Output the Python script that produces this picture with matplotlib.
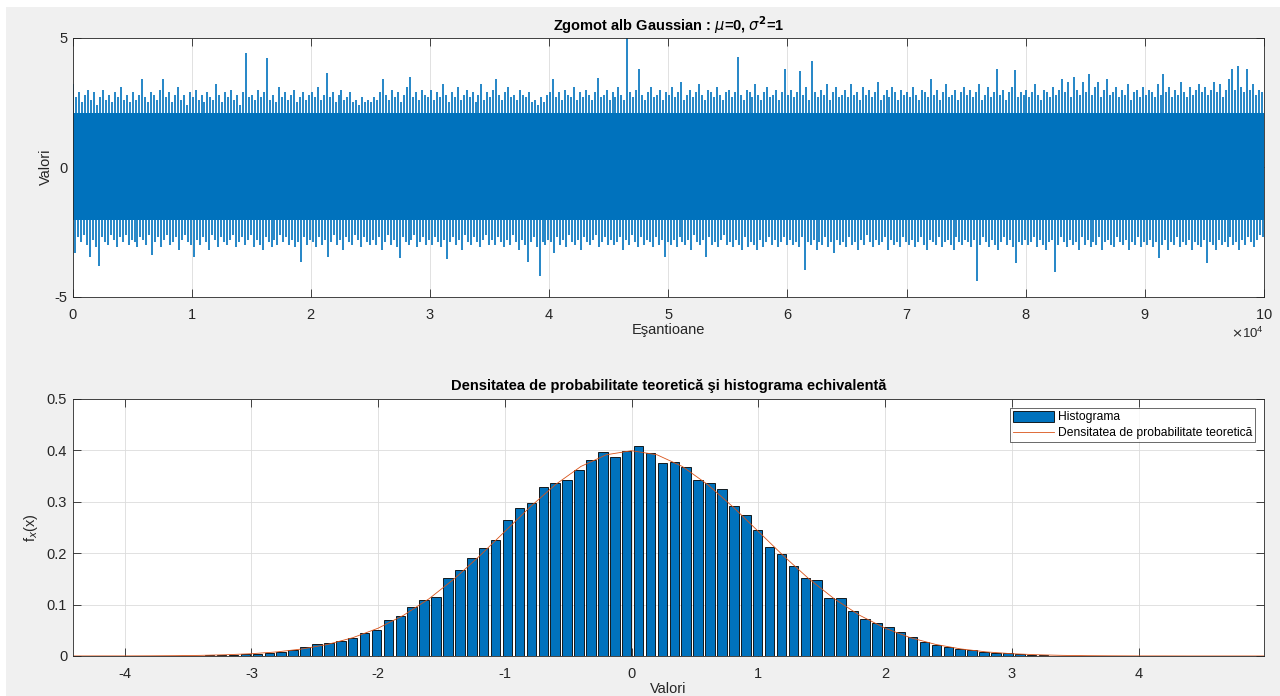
import numpy as np
import matplotlib
matplotlib.use("Agg")
import matplotlib.pyplot as plt
from matplotlib.patches import Rectangle

plt.rcParams['font.family'] = ['Liberation Sans', 'DejaVu Sans']
plt.rcParams['axes.unicode_minus'] = False

# --- top panel: white gaussian noise, 1e5 samples -------------------------
# far too dense to read sample by sample, so the trace is kept as the
# highest / lowest value seen in every block of 250 samples
n_samples = 100000
block = 250
hi_env = [
    3.2, 2.7, 2.9, 2.5, 2.8, 3.0, 2.6, 2.9, 2.4, 2.7, 3.0, 2.6, 2.8, 2.5, 2.9, 2.7, 3.1, 2.6, 2.8, 2.5,
    2.9, 2.6, 2.8, 3.4, 2.7, 2.5, 2.9, 2.8, 2.6, 3.0, 3.4, 2.7, 2.9, 2.5, 2.8, 3.1, 2.6, 2.8, 2.4, 2.9,
    2.7, 3.0, 2.6, 2.8, 2.5, 2.9, 2.7, 2.6, 3.2, 2.8, 2.5, 2.9, 2.7, 3.0, 2.6, 2.8, 2.4, 2.9, 4.4, 2.7,
    2.8, 2.6, 3.0, 2.7, 2.9, 4.2, 2.6, 2.8, 2.5, 3.1, 2.7, 2.9, 2.6, 2.8, 3.0, 2.5, 2.7, 2.9, 2.6, 2.8,
    2.9, 2.7, 3.1, 2.6, 2.8, 3.65, 2.7, 2.9, 2.5, 2.8, 3.0, 2.6, 2.7, 2.9, 2.5, 2.6, 2.4, 2.7, 2.5, 2.6,
    2.5, 2.7, 2.6, 2.9, 3.4, 2.8, 2.6, 3.0, 2.7, 2.9, 2.5, 2.8, 3.1, 3.5, 2.7, 2.9, 2.6, 3.0, 2.8, 2.7,
    3.0, 2.6, 2.9, 2.7, 3.2, 2.8, 2.5, 2.9, 2.7, 3.1, 2.6, 2.8, 3.0, 2.7, 2.9, 2.5, 2.8, 3.2, 2.6, 2.9,
    2.7, 3.0, 3.4, 2.8, 2.6, 2.9, 3.1, 2.7, 2.8, 2.6, 3.0, 2.8, 2.7, 2.9, 2.5, 2.6, 2.4, 2.7, 2.5, 2.8,
    2.9, 3.4, 2.7, 2.9, 2.6, 3.0, 2.8, 2.7, 3.1, 2.6, 2.9, 2.7, 3.0, 2.8, 2.6, 2.9, 3.45, 2.7, 2.8, 3.0,
    2.6, 2.9, 2.7, 3.1, 2.8, 2.6, 4.99, 2.9, 2.7, 3.0, 3.8, 2.8, 2.6, 2.9, 3.1, 2.7, 2.8, 3.0, 2.6, 2.9,
    2.8, 3.1, 2.7, 2.9, 3.3, 2.6, 2.8, 3.0, 2.7, 2.9, 3.2, 2.8, 2.6, 3.0, 2.9, 2.7, 3.1, 2.8, 2.6, 2.9,
    3.0, 2.7, 2.9, 4.25, 2.8, 2.6, 3.0, 2.9, 2.7, 3.2, 2.8, 2.6, 2.9, 3.1, 2.7, 2.8, 3.0, 2.6, 2.9, 3.8,
    2.8, 3.0, 2.7, 2.9, 3.7, 2.8, 3.1, 2.6, 4.1, 2.9, 2.7, 3.0, 2.8, 3.2, 2.6, 2.9, 3.1, 2.7, 2.8, 3.0,
    2.7, 3.2, 2.8, 2.9, 2.6, 3.1, 2.8, 3.0, 2.7, 2.9, 3.3, 2.6, 2.8, 3.0, 2.7, 3.1, 2.9, 2.6, 3.0, 2.8,
    2.9, 2.7, 3.1, 2.8, 2.6, 3.0, 2.9, 2.7, 3.4, 2.8, 3.0, 2.6, 2.9, 3.2, 2.7, 2.8, 3.0, 2.6, 2.9, 3.1,
    2.8, 3.0, 2.7, 2.9, 3.2, 2.6, 2.8, 3.1, 2.7, 2.9, 3.8, 2.8, 3.0, 2.6, 2.9, 3.1, 3.75, 2.7, 2.9, 2.8,
    3.0, 2.7, 2.9, 3.2, 2.8, 2.6, 3.0, 2.9, 2.7, 3.1, 2.8, 3.0, 3.4, 2.9, 3.3, 2.7, 3.5, 3.0, 2.8, 3.3,
    2.9, 3.6, 2.8, 3.1, 3.3, 2.7, 3.0, 3.4, 2.8, 2.9, 3.1, 2.7, 3.0, 2.8, 3.2, 2.6, 2.9, 3.0, 2.7, 3.1,
    2.8, 3.0, 2.9, 2.7, 3.2, 2.8, 3.6, 2.9, 3.1, 2.7, 3.0, 2.8, 3.3, 2.9, 2.7, 3.1, 2.8, 3.0, 3.2, 2.9,
    3.1, 2.8, 3.0, 3.3, 2.9, 3.2, 2.7, 3.0, 3.4, 3.8, 3.0, 3.9, 3.1, 2.9, 3.8, 3.0, 3.2, 2.8, 3.0, 2.9,
]
lo_env = [
    -3.3, -2.7, -2.9, -2.6, -3.0, -3.45, -2.8, -3.1, -3.8, -2.7, -2.9, -3.0, -2.6, -2.8, -3.1, -2.7, -2.9, -2.6, -3.0, -2.8,
    -2.9, -3.1, -2.7, -2.8, -3.0, -2.6, -3.4, -2.9, -2.7, -3.1, -2.8, -2.6, -3.0, -2.9, -2.7, -3.2, -2.8, -2.6, -2.9, -3.0,
    -3.45, -2.8, -3.0, -2.7, -2.9, -3.2, -2.6, -2.8, -3.1, -2.7, -2.9, -3.0, -2.8, -2.6, -3.1, -2.9, -2.7, -3.0, -2.8, -2.6,
    -3.1, -2.8, -3.0, -3.2, -2.7, -2.9, -3.1, -2.8, -3.0, -2.6, -2.9, -2.7, -3.0, -2.8, -3.1, -2.9, -3.65, -2.7, -3.0, -2.8,
    -2.9, -3.1, -2.7, -3.0, -2.8, -3.45, -2.9, -2.6, -3.0, -2.8, -3.2, -2.7, -2.9, -3.0, -2.6, -2.8, -3.1, -2.7, -2.9, -3.0,
    -2.8, -3.0, -2.7, -3.2, -2.9, -2.6, -3.0, -2.8, -3.1, -3.5, -2.7, -2.9, -3.0, -2.8, -2.6, -3.1, -2.9, -2.7, -3.0, -2.8,
    -3.0, -2.7, -2.9, -3.1, -2.8, -3.55, -2.9, -2.7, -3.0, -2.8, -3.2, -2.6, -2.9, -3.0, -2.7, -2.9, -3.1, -2.8, -2.6, -3.0,
    -2.8, -3.0, -2.7, -2.9, -3.1, -2.8, -3.0, -2.6, -2.9, -3.2, -2.8, -3.0, -3.65, -2.9, -2.7, -3.1, -4.2, -2.9, -3.0, -2.8,
    -2.9, -3.3, -2.7, -3.0, -2.8, -3.1, -2.6, -2.9, -3.0, -2.8, -3.2, -2.7, -2.9, -3.0, -2.8, -2.6, -3.1, -2.9, -2.7, -3.0,
    -2.8, -3.0, -2.9, -2.7, -3.2, -2.8, -3.0, -2.6, -2.9, -3.1, -2.7, -3.0, -2.8, -2.9, -3.1, -2.7, -3.0, -2.8, -3.45, -2.9,
    -3.0, -2.8, -3.1, -2.7, -2.9, -3.0, -2.8, -3.2, -2.6, -2.9, -3.0, -2.8, -3.45, -2.7, -3.0, -2.9, -3.1, -2.8, -2.6, -3.0,
    -2.9, -3.1, -2.8, -3.0, -3.2, -2.7, -3.1, -2.9, -3.0, -3.2, -2.8, -3.1, -2.9, -2.7, -3.0, -2.8, -3.1, -2.9, -2.7, -3.0,
    -2.8, -3.0, -2.9, -3.1, -2.7, -3.95, -2.9, -3.0, -2.8, -3.2, -2.9, -3.0, -2.7, -3.1, -2.9, -3.3, -2.8, -3.0, -2.9, -3.1,
    -2.7, -3.0, -2.9, -3.2, -2.8, -3.0, -2.6, -2.9, -3.1, -2.8, -3.0, -2.9, -2.7, -3.2, -2.8, -3.0, -2.9, -3.1, -2.7, -2.9,
    -3.0, -2.8, -3.1, -2.9, -2.7, -3.0, -3.2, -2.8, -2.9, -3.0, -2.7, -3.1, -2.9, -2.8, -3.0, -3.2, -2.7, -2.9, -3.0, -2.8,
    -2.9, -3.1, -2.8, -4.41, -3.0, -2.7, -2.9, -3.1, -2.8, -3.0, -3.2, -2.9, -2.7, -3.0, -2.8, -3.1, -3.7, -2.9, -3.0, -2.8,
    -3.0, -2.9, -2.7, -3.1, -2.8, -3.0, -3.2, -2.9, -2.8, -4.05, -3.0, -2.7, -2.9, -3.1, -2.8, -3.0, -2.9, -3.2, -2.7, -3.0,
    -2.8, -3.1, -2.9, -3.0, -2.7, -3.2, -2.9, -2.8, -3.0, -3.1, -2.7, -2.9, -3.0, -2.8, -3.2, -2.9, -3.0, -2.7, -3.1, -2.9,
    -3.0, -2.8, -3.1, -2.9, -3.5, -3.0, -2.8, -3.2, -2.9, -3.0, -2.7, -3.1, -2.9, -3.0, -2.8, -3.2, -2.9, -3.0, -3.1, -2.8,
    -3.7, -2.9, -3.0, -3.2, -2.8, -3.0, -2.9, -3.1, -2.7, -3.0, -2.9, -3.2, -2.8, -3.0, -2.7, -2.9, -3.1, -2.8, -2.6, -2.7,
]
core_band = (-2.05, 2.1)   # range the trace covers solidly

# --- bottom panel: 100-bin histogram (pdf-normalised) + theoretical pdf ----
x_min, x_max = -4.41, 4.99
n_bins = 100
hist_vals = [
    0.0001, 0, 0, 0, 0, 0, 0.0001, 0.0002, 0.0004, 0.0006,
    0.0008, 0.0012, 0.0018, 0.0024, 0.003, 0.004, 0.006, 0.008, 0.012, 0.018,
    0.023, 0.025, 0.030, 0.034, 0.045, 0.050, 0.070, 0.077, 0.096, 0.108,
    0.115, 0.151, 0.168, 0.190, 0.210, 0.226, 0.265, 0.288, 0.297, 0.329,
    0.336, 0.342, 0.362, 0.381, 0.397, 0.387, 0.399, 0.408, 0.395, 0.375,
    0.376, 0.367, 0.342, 0.336, 0.324, 0.292, 0.274, 0.244, 0.212, 0.199,
    0.175, 0.152, 0.147, 0.113, 0.112, 0.088, 0.071, 0.065, 0.056, 0.046,
    0.037, 0.028, 0.022, 0.018, 0.014, 0.011, 0.008, 0.006, 0.006, 0.003,
    0.0015, 0.001, 0.0008, 0.0005, 0.0003, 0.0002, 0.0001, 0, 0, 0,
    0, 0, 0, 0, 0, 0, 0, 0, 0, 0.0001,
]
pdf_x = np.round(np.arange(-4.4, 5.01, 0.2), 1)
pdf_y = [
    0.0, 0.0001, 0.0001, 0.0003, 0.0006, 0.0012, 0.0024, 0.0044, 0.0079, 0.0136,
    0.0224, 0.0355, 0.0540, 0.0790, 0.1109, 0.1497, 0.1942, 0.2420, 0.2897, 0.3332,
    0.3683, 0.3910, 0.3989, 0.3910, 0.3683, 0.3332, 0.2897, 0.2420, 0.1942, 0.1497,
    0.1109, 0.0790, 0.0540, 0.0355, 0.0224, 0.0136, 0.0079, 0.0044, 0.0024, 0.0012,
    0.0006, 0.0003, 0.0001, 0.0001, 0.0, 0.0, 0.0, 0.0,
]

blue = '#0072BD'
red = '#D95319'
dark = '#262626'
fs = 10.5

fig = plt.figure(figsize=(12.8, 6.96), dpi=100)
fig.patch.set_facecolor('white')
fig.patches.append(Rectangle((6 / 1280, 0), 1, 1 - 7 / 696, transform=fig.transFigure,
                             facecolor='#f0f0f0', edgecolor='none', zorder=-10))

ax = fig.add_axes([0.0568, 0.5737, 0.9307, 0.3721])
bx = fig.add_axes([0.0568, 0.0575, 0.9307, 0.3697])


def matlab_style(a):
    a.set_axisbelow(True)
    a.grid(True, color='#dcdcdc', linewidth=0.6)
    a.tick_params(direction='in', length=6, width=0.6, top=True, right=True,
                  colors=dark, labelsize=fs)
    a.tick_params(axis='x', pad=8)
    a.tick_params(axis='y', pad=4)
    for s in a.spines.values():
        s.set_color(dark)
        s.set_linewidth(0.6)


# noise trace: solid core plus the block extremes as needles
xs = np.arange(n_samples // block) * block
ax.fill_between([0, n_samples], core_band[0], core_band[1], color=blue, linewidth=0)
ax.vlines(xs + block * 0.25, 0, hi_env, color=blue, linewidth=1.2)
ax.vlines(xs + block * 0.75, lo_env, 0, color=blue, linewidth=1.2)
ax.set_xlim(0, n_samples)
ax.set_ylim(-5, 5)
ax.set_xticks(np.arange(0, n_samples + 1, 10000))
ax.set_yticks([-5, 0, 5])
ax.ticklabel_format(axis='x', style='sci', scilimits=(4, 4), useMathText=True)
matlab_style(ax)
ax.xaxis.get_offset_text().set_fontsize(fs - 1)
ax.xaxis.get_offset_text().set_color(dark)
ax.set_title(r'Zgomot alb Gaussian : $\mu$=0, $\sigma^\mathbf{2}$=1', fontsize=fs,
             fontweight='bold', color='black', pad=5)
ax.set_xlabel('Eşantioane', fontsize=fs, color=dark, labelpad=1)
ax.set_ylabel('Valori', fontsize=fs, color=dark, labelpad=1)

# histogram
edges = np.linspace(x_min, x_max, n_bins + 1)
centers = (edges[:-1] + edges[1:]) / 2
bw = edges[1] - edges[0]
bars = bx.bar(centers, hist_vals, width=0.8 * bw, color=blue, edgecolor='black',
              linewidth=0.6, label='Histograma')
line, = bx.plot(pdf_x, pdf_y, color=red, linewidth=0.6,
                label='Densitatea de probabilitate teoretică')
bx.set_xlim(x_min, x_max)
bx.set_ylim(0, 0.5)
bx.set_xticks(np.arange(-4, 5))
bx.set_yticks(np.arange(0, 0.51, 0.1))
bx.yaxis.set_major_formatter(matplotlib.ticker.FormatStrFormatter('%g'))
matlab_style(bx)
bx.set_title('Densitatea de probabilitate teoretică şi histograma echivalentă',
             fontsize=fs, fontweight='bold', color='black', pad=6)
bx.set_xlabel('Valori', fontsize=fs, color=dark, labelpad=1)
bx.set_ylabel('f$_{x}$(x)', fontsize=fs, color=dark, labelpad=5)
leg = bx.legend([bars, line], [bars.get_label(), line.get_label()],
                loc='upper right', fontsize=8.7, frameon=True, fancybox=False,
                handlelength=3.4, handleheight=1.0, labelspacing=0.3,
                borderpad=0.25, handletextpad=0.3, borderaxespad=0.75)
leg.get_frame().set_edgecolor(dark)
leg.get_frame().set_linewidth(0.6)

fig.savefig('out.png', dpi=100, facecolor=fig.get_facecolor())
